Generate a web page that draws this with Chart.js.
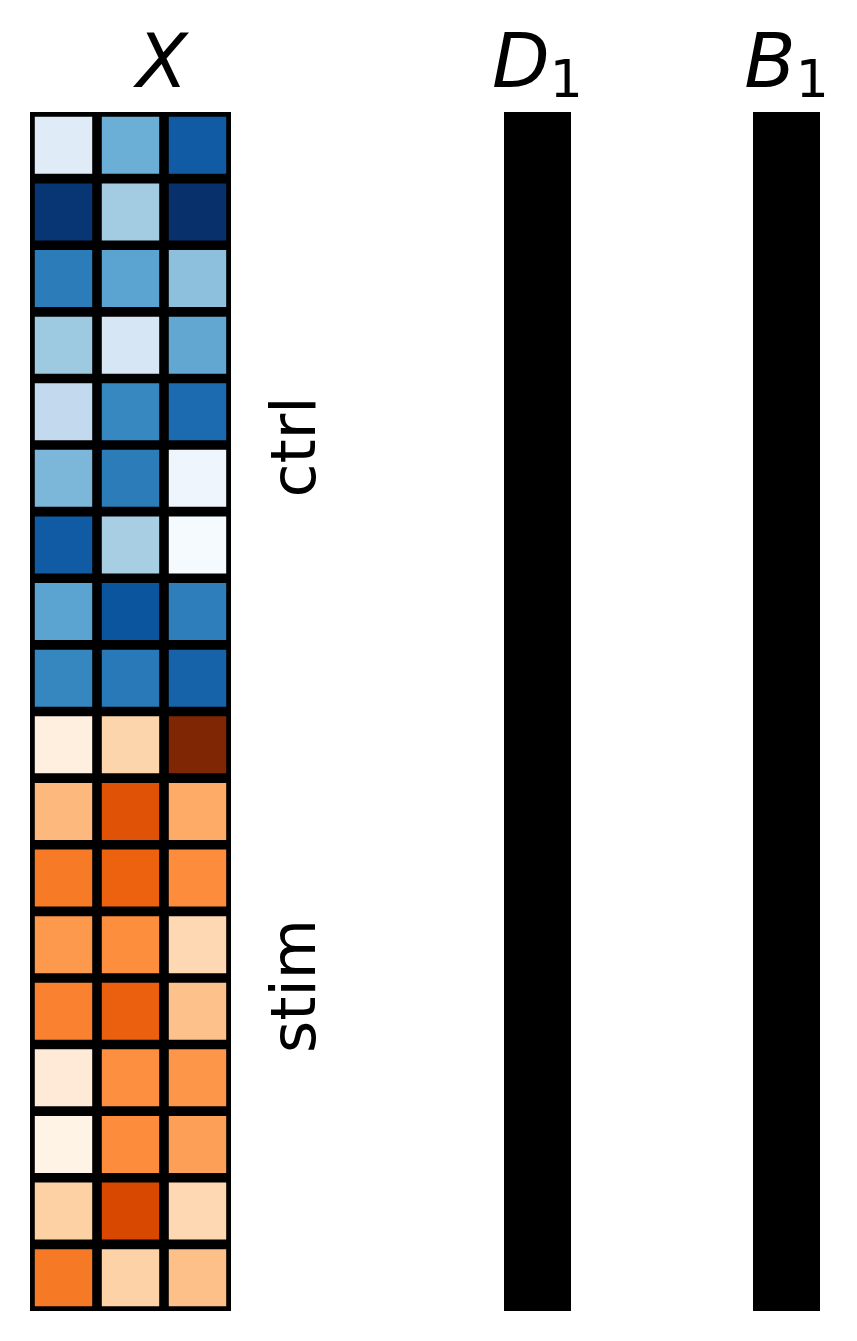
<!DOCTYPE html>
<html>
<head>
<meta charset="utf-8">
<script src="https://cdn.jsdelivr.net/npm/chart.js@4"></script>
<style>
html,body{margin:0;padding:0;background:#fff;}
#wrap{position:relative;width:857px;height:1341px;overflow:hidden;background:#fff;}
canvas{position:absolute;top:0;}
</style>
</head>
<body>
<div id="wrap">
<canvas id="cX" width="340" height="1341" style="left:0px"></canvas>
<canvas id="cD" width="140" height="1341" style="left:470px"></canvas>
<canvas id="cB" width="140" height="1341" style="left:717px"></canvas>
</div>
<script>
// ---------------- data ----------------
const columnsX = ['x1', 'x2', 'x3'];
const groupLabels = ['ctrl', 'stim'];
// ctrl rows (Blues colormap, 0..1)
const ctrlValues = [
  [0.12, 0.50, 0.835],
  [0.98, 0.36, 1.00],
  [0.71, 0.55, 0.42],
  [0.375, 0.167, 0.53],
  [0.26, 0.667, 0.775],
  [0.458, 0.71, 0.045],
  [0.835, 0.344, 0.01],
  [0.55, 0.86, 0.70],
  [0.67, 0.72, 0.805]
];
// stim rows (Oranges colormap, 0..1)
const stimValues = [
  [0.05, 0.22, 1.00],
  [0.335, 0.714, 0.386],
  [0.566, 0.65, 0.50],
  [0.455, 0.495, 0.205],
  [0.54, 0.66, 0.30],
  [0.09, 0.49, 0.466],
  [0.02, 0.50, 0.43],
  [0.245, 0.75, 0.205],
  [0.57, 0.24, 0.31]
];
// D1 and B1 columns (Greys colormap)
const D1Values = [1,1,1,1,1,1,1,1,1,1,1,1,1,1,1,1,1,1];
const B1Values = [1,1,1,1,1,1,1,1,1,1,1,1,1,1,1,1,1,1];
const titleX = {base: 'X', sub: ''};
const titleD = {base: 'D', sub: '1'};
const titleB = {base: 'B', sub: '1'};

// ---------------- colormaps ----------------
const CMAPS = {
  Blues: ['#f7fbff','#deebf7','#c6dbef','#9ecae1','#6baed6','#4292c6','#2171b5','#08519c','#08306b'],
  Oranges: ['#fff5eb','#fee6ce','#fdd0a2','#fdae6b','#fd8d3c','#f16913','#d94801','#a63603','#7f2704'],
  Greys: ['#ffffff','#f0f0f0','#d9d9d9','#bdbdbd','#969696','#737373','#525252','#252525','#000000']
};
function hex2rgb(h){return [parseInt(h.slice(1,3),16),parseInt(h.slice(3,5),16),parseInt(h.slice(5,7),16)];}
function cmap(name, v){
  const stops = CMAPS[name];
  v = Math.max(0, Math.min(1, v));
  const pos = v * (stops.length - 1);
  const i = Math.min(Math.floor(pos), stops.length - 2);
  const t = pos - i;
  const a = hex2rgb(stops[i]), b = hex2rgb(stops[i+1]);
  const c = a.map((x, k) => Math.round(x + (b[k] - x) * t));
  return 'rgb(' + c.join(',') + ')';
}

// ---------------- plugins ----------------
const gridBackdrop = {
  id: 'gridBackdrop',
  beforeDatasetsDraw(chart) {
    const a = chart.chartArea;
    const ctx = chart.ctx;
    ctx.save();
    ctx.fillStyle = '#000';
    ctx.fillRect(a.left, a.top, a.right - a.left, a.bottom - a.top);
    ctx.restore();
  }
};
const panelText = {
  id: 'panelText',
  afterDraw(chart, args, opts) {
    const ctx = chart.ctx;
    const area = chart.chartArea;
    ctx.save();
    ctx.fillStyle = '#000';
    if (opts.title) {
      const t = opts.title;
      const baseFont = 'italic 75px "DejaVu Sans"';
      const subFont = '52px "DejaVu Sans"';
      ctx.font = baseFont;
      const wb = ctx.measureText(t.base).width;
      ctx.font = subFont;
      const ws = t.sub ? ctx.measureText(t.sub).width : 0;
      const cx = (opts.titleCenter != null) ? opts.titleCenter : (area.left + area.right) / 2;
      const x0 = cx - (wb + ws) / 2;
      ctx.textAlign = 'left';
      ctx.textBaseline = 'alphabetic';
      ctx.font = baseFont;
      ctx.fillText(t.base, x0, opts.titleBaseline);
      if (t.sub) {
        ctx.font = subFont;
        ctx.fillText(t.sub, x0 + wb, opts.titleBaseline + 10);
      }
    }
    if (opts.groups) {
      const ys = chart.scales.y;
      ctx.font = '62px "DejaVu Sans"';
      ctx.textAlign = 'center';
      ctx.textBaseline = 'alphabetic';
      opts.groups.forEach(g => {
        ctx.save();
        ctx.translate(area.right + opts.groupOffset, ys.getPixelForValue(g.at));
        ctx.rotate(-Math.PI / 2);
        ctx.fillText(g.text, 0, 0);
        ctx.restore();
      });
    }
    ctx.restore();
  }
};

const cellStyle = {
  grouped: false,
  barPercentage: 1,
  categoryPercentage: 1,
  borderColor: '#000',
  borderWidth: 4.8,
  borderSkipped: false,
  inflateAmount: 0
};

function baseOptions(padL, padR, textOpts) {
  return {
    responsive: false,
    animation: false,
    layout: {padding: {left: padL, right: padR, top: 112, bottom: 30}},
    plugins: {legend: {display: false}, tooltip: {enabled: false}, title: {display: false}, panelText: textOpts},
    scales: {
      x: {type: 'category', display: false},
      y: {type: 'linear', min: 0, max: 18, reverse: true, display: false}
    },
    datasets: {bar: cellStyle}
  };
}

// ---------------- heatmap X ----------------
const rowsX = ctrlValues.map(r => ({vals: r, cm: 'Blues'})).concat(stimValues.map(r => ({vals: r, cm: 'Oranges'})));
const datasetsX = rowsX.map((row, r) => ({
  data: row.vals.map(() => [r, r + 1]),
  backgroundColor: row.vals.map(v => cmap(row.cm, v))
}));
new Chart(document.getElementById('cX'), {
  type: 'bar',
  data: {labels: columnsX, datasets: datasetsX},
  options: baseOptions(30, 109, {
    title: titleX, titleBaseline: 87, titleCenter: 162,
    groups: [{text: groupLabels[0], at: 5.03}, {text: groupLabels[1], at: 13.12}],
    groupOffset: 84
  }),
  plugins: [gridBackdrop, panelText]
});

// ---------------- D1 / B1 ----------------
function columnChart(id, values, title, padL, padR) {
  const ds = values.map((v, r) => ({data: [[r, r + 1]], backgroundColor: [cmap('Greys', v)]}));
  new Chart(document.getElementById(id), {
    type: 'bar',
    data: {labels: ['c'], datasets: ds},
    options: baseOptions(padL, padR, {title: title, titleBaseline: 87}),
    plugins: [gridBackdrop, panelText]
  });
}
columnChart('cD', D1Values, titleD, 34, 39);
columnChart('cB', B1Values, titleB, 36, 37);
</script>
</body>
</html>
